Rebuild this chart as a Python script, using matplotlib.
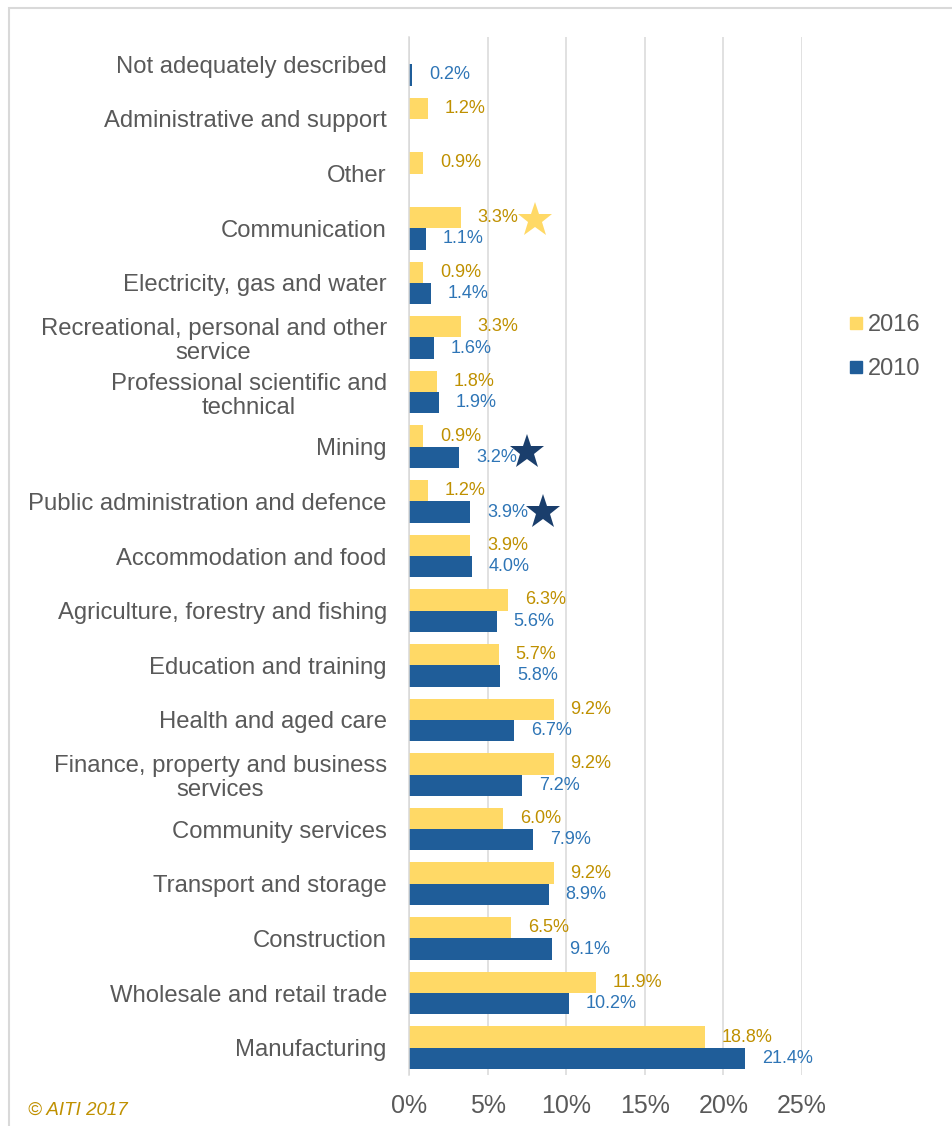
import numpy as np
import matplotlib
matplotlib.use("Agg")
import matplotlib.pyplot as plt
from matplotlib.lines import Line2D
from matplotlib.patches import Rectangle

plt.rcParams["font.family"] = ["Liberation Sans", "DejaVu Sans"]

# ---------------------------------------------------
# Dados: participação por setor (%), 2016 e 2010
# ---------------------------------------------------
setores = [
    "Not adequately described",
    "Administrative and support",
    "Other",
    "Communication",
    "Electricity, gas and water",
    "Recreational, personal and other\nservice",
    "Professional scientific and\ntechnical",
    "Mining",
    "Public administration and defence",
    "Accommodation and food",
    "Agriculture, forestry and fishing",
    "Education and training",
    "Health and aged care",
    "Finance, property and business\nservices",
    "Community services",
    "Transport and storage",
    "Construction",
    "Wholesale and retail trade",
    "Manufacturing",
]
v2016 = [np.nan, 1.2, 0.9, 3.3, 0.9, 3.3, 1.8, 0.9, 1.2, 3.9,
         6.3, 5.7, 9.2, 9.2, 6.0, 9.2, 6.5, 11.9, 18.8]
v2010 = [0.2, np.nan, np.nan, 1.1, 1.4, 1.6, 1.9, 3.2, 3.9, 4.0,
         5.6, 5.8, 6.7, 7.2, 7.9, 8.9, 9.1, 10.2, 21.4]
xticks = [0, 5, 10, 15, 20, 25]

# destaques (estrelas): setor, deslocamento vertical, posição x, cor
destaques = [("Communication", -0.15, 8.0, "#FFD966"),
             ("Mining", 0.10, 7.5, "#1A3E6C"),
             ("Public administration and defence", 0.20, 8.5, "#1A3E6C")]

cor16, cor10 = "#FFD966", "#1F5D99"
txt16, txt10 = "#BF9000", "#2E75B6"
cinza = "#595959"

# ---------------------------------------------------
# Gráfico
# ---------------------------------------------------
fig = plt.figure(figsize=(9.52, 11.26), dpi=100)
ax = fig.add_axes([409 / 952, 1 - 1075 / 1126, 393 / 952, 1038 / 1126])

y = np.arange(len(setores))
h = 0.39
ax.barh(y - h / 2, v2016, height=h, color=cor16, label="2016")
ax.barh(y + h / 2, v2010, height=h, color=cor10, label="2010")

for i in range(len(setores)):
    if not np.isnan(v2016[i]):
        ax.annotate(f"{v2016[i]:.1f}%", (v2016[i], y[i] - h / 2), xytext=(12, 0),
                    textcoords="offset points", va="center", ha="left",
                    fontsize=13, color=txt16)
    if not np.isnan(v2010[i]):
        ax.annotate(f"{v2010[i]:.1f}%", (v2010[i], y[i] + h / 2), xytext=(12, 0),
                    textcoords="offset points", va="center", ha="left",
                    fontsize=13, color=txt10)

for nome, dy, xs, cor in destaques:
    ax.plot(xs, setores.index(nome) + dy, marker="*", markersize=26, color=cor,
            markeredgewidth=0, clip_on=False, zorder=5)

ax.set_xlim(0, 25)
ax.set_ylim(len(setores) - 0.5, -0.5)
ax.set_xticks(xticks)
ax.set_xticklabels([f"{t}%" for t in xticks])
ax.set_yticks(y)
ax.set_yticklabels(setores, linespacing=1.12)
for lbl in ax.get_yticklabels():
    lbl.set_multialignment("center")

ax.tick_params(axis="x", length=0, pad=14, labelsize=18, labelcolor=cinza)
ax.tick_params(axis="y", length=0, pad=16, labelsize=17.2, labelcolor=cinza)
ax.grid(axis="x", color="#D9D9D9", linewidth=1.1)
ax.set_axisbelow(True)
for lado in ["top", "right", "bottom"]:
    ax.spines[lado].set_visible(False)
ax.spines["left"].set_color("#D9D9D9")
ax.spines["left"].set_linewidth(1.1)

handles = [Line2D([], [], marker="s", linestyle="none", markersize=9, color=cor16),
           Line2D([], [], marker="s", linestyle="none", markersize=9, color=cor10)]
fig.legend(handles, ["2016", "2010"], loc="center left",
           bbox_to_anchor=(828 / 952, 1 - 347 / 1126), frameon=False,
           fontsize=17, labelcolor=cinza, handlelength=0.6, handletextpad=0.2,
           labelspacing=0.95)

fig.text(28 / 952, 1 - 1110 / 1126, "© AITI 2017", fontsize=13.5, style="italic",
         color=txt16, va="center", ha="left")

# moldura
fig.patches.append(Rectangle((9 / 952, -0.1), 1.2, 1 - 8 / 1126 + 0.1,
                             transform=fig.transFigure, fill=False,
                             edgecolor="#D9D9D9", linewidth=1.5))

fig.savefig("out.png", dpi=100)
